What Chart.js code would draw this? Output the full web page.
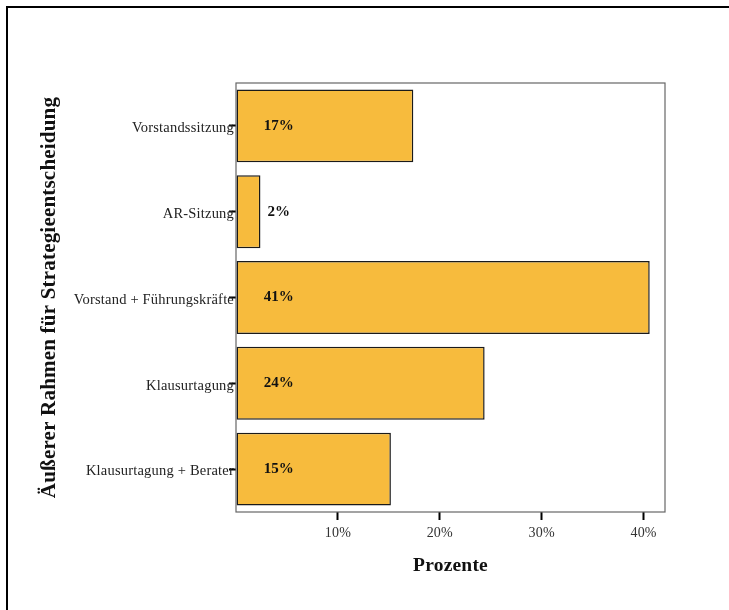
<!DOCTYPE html>
<html>
<head>
<meta charset="utf-8">
<script src="https://cdn.jsdelivr.net/npm/chart.js@4"></script>
<style>
  html, body { margin: 0; padding: 0; background: #fff; }
  #wrap { width: 729px; height: 610px; }
</style>
</head>
<body>
<div id="wrap"><canvas id="grafico" width="729" height="610"></canvas></div>
<script>
// Datos del gráfico
const kategorien = ["Vorstandssitzung", "AR-Sitzung", "Vorstand + Führungskräfte", "Klausurtagung", "Klausurtagung + Berater"];
const prozente = [17.4, 2.4, 40.6, 24.4, 15.2];
const xTicks = [10, 20, 30, 40];
const xMax = 42.1;
const labelAt = 4.2; // Position der Werte-Beschriftung (in Prozent)

const serif = "'Liberation Serif', 'Times New Roman', serif";

// Rahmen links/oben und Rahmen um die Zeichenfläche
const rahmenPlugin = {
  id: "rahmen",
  beforeDraw(chart) {
    const ctx = chart.ctx;
    ctx.save();
    ctx.fillStyle = "#fff";
    ctx.fillRect(0, 0, chart.width, chart.height);
    ctx.fillStyle = "#000";
    ctx.fillRect(6, 6, 2, chart.height);
    ctx.fillRect(6, 6, chart.width, 2);
    ctx.restore();
    // etwas breitere Schrift wie im Original (Achsen und Titel)
    ctx.letterSpacing = "0.2px";
  },
  beforeDatasetsDraw(chart) {
    chart.ctx.letterSpacing = "0px";
  },
  afterDraw(chart) {
    const { ctx, chartArea: a } = chart;
    ctx.save();
    ctx.strokeStyle = "#666";
    ctx.lineWidth = 1.2;
    ctx.strokeRect(a.left, a.top, a.right - a.left, a.bottom - a.top);
    ctx.restore();
  }
};

// Prozentwerte in den Balken
const wertePlugin = {
  id: "werte",
  afterDatasetsDraw(chart) {
    const ctx = chart.ctx;
    const meta = chart.getDatasetMeta(0);
    const x = chart.scales.x.getPixelForValue(labelAt);
    ctx.save();
    ctx.letterSpacing = "0px";
    ctx.font = "bold 15px " + serif;
    ctx.fillStyle = "#111";
    ctx.textAlign = "center";
    ctx.textBaseline = "middle";
    meta.data.forEach((bar, i) => {
      ctx.fillText(Math.round(prozente[i]) + "%", x, bar.y);
    });
    ctx.restore();
  }
};

const contexto = document.getElementById("grafico").getContext("2d");
new Chart(contexto, {
  type: "bar",
  data: {
    labels: kategorien,
    datasets: [
      {
        data: prozente,
        backgroundColor: "#F7BB3D",
        borderColor: "#1a1a1a",
        borderWidth: 1.5,
        borderSkipped: false,
        barPercentage: 0.85,
        categoryPercentage: 1.0,
      },
    ],
  },
  options: {
    indexAxis: "y",
    responsive: false,
    animation: false,
    layout: { padding: { top: 83, right: 64, left: 0, bottom: 0 } },
    plugins: { legend: { display: false }, tooltip: { enabled: false } },
    scales: {
      x: {
        min: 0,
        max: xMax,
        afterFit: (s) => { s.height = 98; },
        afterBuildTicks: (s) => { s.ticks = [0].concat(xTicks).map((v) => ({ value: v })); },
        ticks: {
          callback: (v) => (v === 0 ? "" : v + "%"),
          font: { family: serif, size: 14 },
          color: "#333",
          padding: 5,
          maxRotation: 0,
        },
        grid: {
          drawOnChartArea: false,
          drawTicks: true,
          tickLength: 8,
          tickWidth: 2,
          tickColor: (c) => (c.tick && c.tick.value === 0 ? "rgba(0,0,0,0)" : "#000"),
        },
        border: { display: false },
        title: {
          display: true,
          text: "Prozente",
          font: { family: serif, size: 19.5, weight: "bold" },
          color: "#111",
          padding: { top: 0, bottom: 32 },
        },
      },
      y: {
        afterFit: (s) => { s.width = 236; },
        ticks: {
          font: { family: serif, size: 14.5 },
          color: "#222",
          padding: -5,
          labelOffset: 2.5,
        },
        grid: {
          offset: false,
          drawOnChartArea: false,
          drawTicks: true,
          tickLength: 7,
          tickWidth: 2,
          tickColor: "#000",
        },
        border: { display: false },
        title: {
          display: true,
          text: "Äußerer Rahmen für Strategieentscheidung",
          font: { family: serif, size: 21, weight: "bold" },
          color: "#111",
          padding: { top: 37, bottom: 0 },
        },
      },
    },
  },
  plugins: [rahmenPlugin, wertePlugin],
});
</script>
</body>
</html>
